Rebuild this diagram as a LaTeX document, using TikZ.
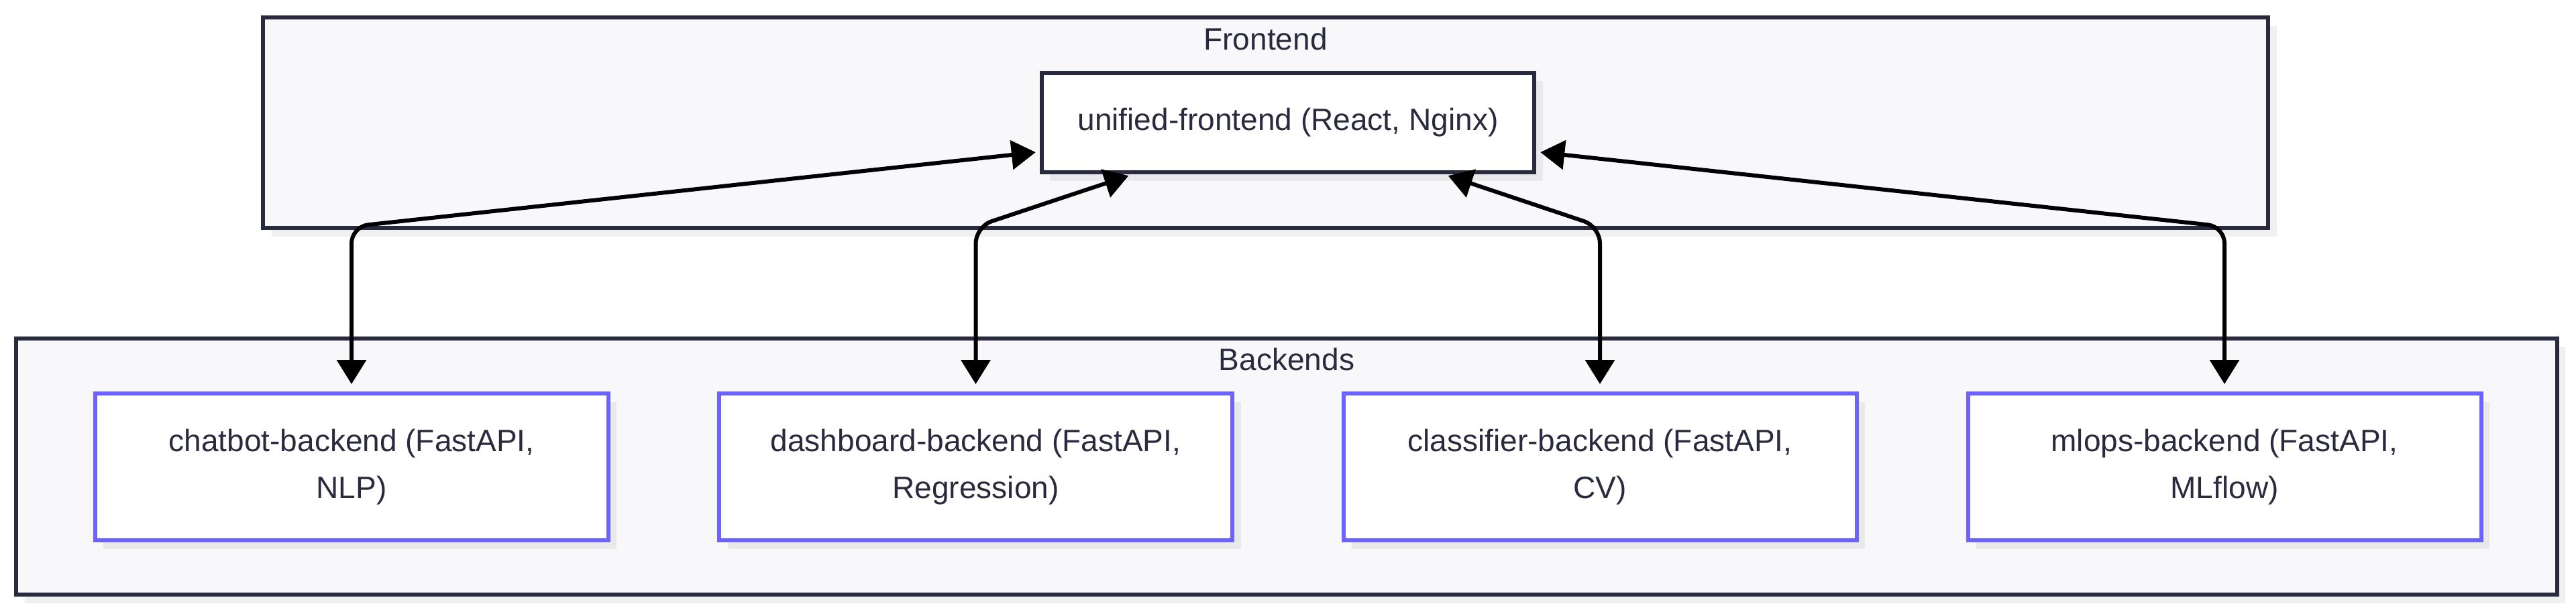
\documentclass[tikz,border=0pt]{standalone}
\usepackage{fontspec}
\setmainfont{Liberation Sans}
\usetikzlibrary{arrows.meta,shadows}
\definecolor{navy}{HTML}{2A2A3E}
\definecolor{clusterbg}{HTML}{F8F8FA}
\definecolor{edgeblue}{HTML}{6C63FF}
\begin{document}
\begin{tikzpicture}[every node/.style={font=\fontsize{13.1}{19.9}\selectfont, text=navy},
            softshadow/.style={drop shadow={shadow xshift=1.25mm, shadow yshift=-1.25mm, fill=black, opacity=0.06}},
            cluster/.style={draw=navy, line width=0.6mm, fill=clusterbg, inner sep=0pt, softshadow},
            webbox/.style={draw=navy, line width=0.6mm, fill=white, softshadow, minimum width=7.345cm, minimum height=1.485cm},
            apibox/.style={draw=edgeblue, line width=0.6mm, fill=white, softshadow, align=center, minimum width=7.65cm, minimum height=2.19cm},
            link/.style={<->, >={Triangle[length=3.6mm,width=4.3mm]}, line width=0.6mm, rounded corners=2.5mm, shorten <=0.6mm, shorten >=1.1mm}]
            \useasboundingbox (0,0) rectangle (38.4,-9.09);
                \node [cluster, minimum width=29.89cm, minimum height=3.14cm] (fe) at (18.865,-1.83) {};
                \node (felabel) at ([yshift=-3.5mm]fe.north) {Frontend};
                \node [cluster, minimum width=37.875cm, minimum height=3.82cm] (be) at (19.18,-6.96) {};
                \node (belabel) at ([yshift=-3.4mm]be.north) {Backends};
                \node [webbox] (uf) at (19.20,-1.83) {unified-frontend (React, Nginx)};
                \node [apibox] (chatbot) at (5.24,-6.965) {chatbot-backend (FastAPI,\\NLP)};
                \node [apibox] (dashboard) at (14.545,-6.965) {dashboard-backend (FastAPI,\\Regression)};
                \node [apibox] (classifier) at (23.85,-6.965) {classifier-backend (FastAPI,\\CV)};
                \node [apibox] (mlops) at (33.16,-6.965) {mlops-backend (FastAPI,\\MLflow)};
                \coordinate (bend) at (0,-3.38);
                \draw [link] ([yshift=-4.35mm]uf.west) -- (chatbot.north |- bend) -- (chatbot.north);
                \draw [link] ([xshift=-2.32cm]uf.south) -- (dashboard.north |- bend) -- (dashboard.north);
                \draw [link] ([xshift=2.33cm]uf.south) -- (classifier.north |- bend) -- (classifier.north);
                \draw [link] ([yshift=-4.35mm]uf.east) -- (mlops.north |- bend) -- (mlops.north);
            \end{tikzpicture}
\end{document}
